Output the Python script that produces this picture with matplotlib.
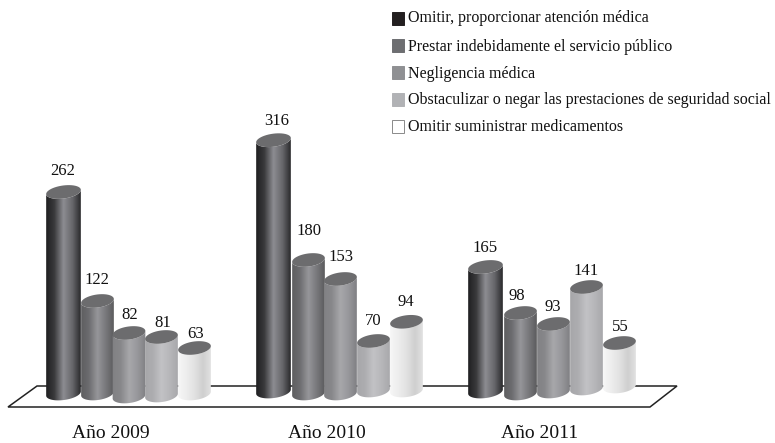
import numpy as np
import matplotlib
matplotlib.use("Agg")
import matplotlib.pyplot as plt
from matplotlib.colors import LinearSegmentedColormap
from matplotlib.patches import Polygon, Rectangle

# ---- data ----
years = ["Año 2009", "Año 2010", "Año 2011"]
series = ["Omitir, proporcionar atención médica",
          "Prestar indebidamente el servicio público",
          "Negligencia médica",
          "Obstaculizar o negar las prestaciones de seguridad social",
          "Omitir suministrar medicamentos"]
omitir_atencion = [262, 316, 165]
prestar_servicio = [122, 180, 98]
negligencia = [82, 153, 93]
obstaculizar = [81, 70, 141]
omitir_medicamentos = [63, 94, 55]

# ---- layout (pixels of the 775x443 figure) ----
Y0, K = 395.0, 0.8
group_x = [46, 256, 468]
bar_x = [[0, 35, 66.5, 99, 132],
         [0, 36, 68, 101, 134],
         [0, 36, 69, 102, 135]]
bar_w = [35, 33, 33, 33, 33]
top_shift = [[6.6, 3.6, 3.6, 6.8, 3.4],
             [-2, 9, 6.4, 2, 2],
             [4, -3.6, 3.4, 4.8, -8]]
low_y = [[400, 400, 403, 402, 400],
         [398, 400, 400, 397, 397],
         [398, 400, 398, 395, 393]]
label_x = [[63, 97, 130, 163, 196],
           [277, 309, 341, 373, 406],
           [485, 517, 553, 586, 620]]
label_gap = [[21, 21, 18, 14, 14],
             [19, 29, 22, 20, 20],
             [19, 17, 17, 16, 16]]
year_x = [111, 326.5, 540]
gradients = [["#1c1c1e", "#3a3a3c", "#8d8d92", "#66666a", "#222224"],
             ["#5c5c5e", "#6c6c6f", "#96969a", "#77777a", "#58585a"],
             ["#808083", "#88888b", "#a8a8ab", "#96969a", "#7d7d80"],
             ["#a6a6a9", "#adadb0", "#c2c2c5", "#b6b6b9", "#a6a6a9"],
             ["#f8f8f8", "#eeeeee", "#e2e2e2", "#cfcfcf", "#e4e4e4"]]
swatch_colors = ["#231f20", "#6d6e71", "#8f9093", "#b1b2b5", "#ffffff"]
legend_y = [18.5, 45, 72, 99, 126]
legend_text_y = [18, 46.5, 74, 100, 127]
TOP_COLOR = "#6c6c6e"
SERIF = "Liberation Serif"

fig = plt.figure(figsize=(7.75, 4.43), dpi=100)
ax = fig.add_axes([0, 0, 1, 1])
ax.axis("off")


def ellipse(cx, cy, a, b, t0, t1, tilt=np.radians(-8), n=50):
    t = np.linspace(t0, t1, n)
    x, y = a * np.cos(t), b * np.sin(t)
    return np.c_[cx + x * np.cos(tilt) - y * np.sin(tilt),
                 cy + x * np.sin(tilt) + y * np.cos(tilt)]


# floor
ax.add_patch(Polygon([(8, 407), (37, 386), (677, 386), (650, 407)], closed=True,
                     fc="white", ec="#222222", lw=1.1, zorder=1))

all_series = [omitir_atencion, prestar_servicio, negligencia, obstaculizar, omitir_medicamentos]
z = 2
for g in range(3):
    for s, values in enumerate(all_series):
        v = values[g]
        x = group_x[g] + bar_x[g][s]
        w = bar_w[s]
        a = w / 2
        b = 6.5
        cx = x + a
        ytop = Y0 - K * v + top_shift[g][s]
        ybot = low_y[g][s] - b
        front = ellipse(cx, ybot, a, b, np.pi, 0)
        top_ring = ellipse(cx, ytop, a, b, 0, np.pi)
        body = np.r_[front, top_ring]
        cmap = LinearSegmentedColormap.from_list("c", gradients[s])
        im = ax.imshow(np.linspace(0, 1, 128)[None, :], cmap=cmap, aspect="auto",
                       extent=(x - 1, x + w + 1, ybot + 10, ytop - 10), zorder=z,
                       interpolation="bilinear")
        im.set_clip_path(Polygon(body, closed=True, transform=ax.transData))
        ax.add_patch(Polygon(ellipse(cx, ytop, a, b, 0, 2 * np.pi), closed=True,
                             fc=TOP_COLOR, ec="none", zorder=z + 0.5))
        ax.text(label_x[g][s], ytop - label_gap[g][s], str(v), ha="center", va="center",
                family=SERIF, fontsize=12, color="#111111", zorder=50)
        z += 1
    ax.text(year_x[g], 433, years[g], ha="center", va="center", family=SERIF,
            fontsize=14, color="#111111")

# legend
for yy, ty, name, col in zip(legend_y, legend_text_y, series, swatch_colors):
    ax.add_patch(Rectangle((391.5, yy - 6.5), 12.5, 13, fc=col,
                           ec="#8a8a8a" if col == "#ffffff" else col, lw=0.7, zorder=60))
    ax.text(408, ty, name, ha="left", va="center", family=SERIF, fontsize=11.5,
            color="#111111", zorder=60)

ax.set_xlim(0, 775)
ax.set_ylim(443, 0)
fig.savefig("out.png", dpi=100, facecolor="white")
